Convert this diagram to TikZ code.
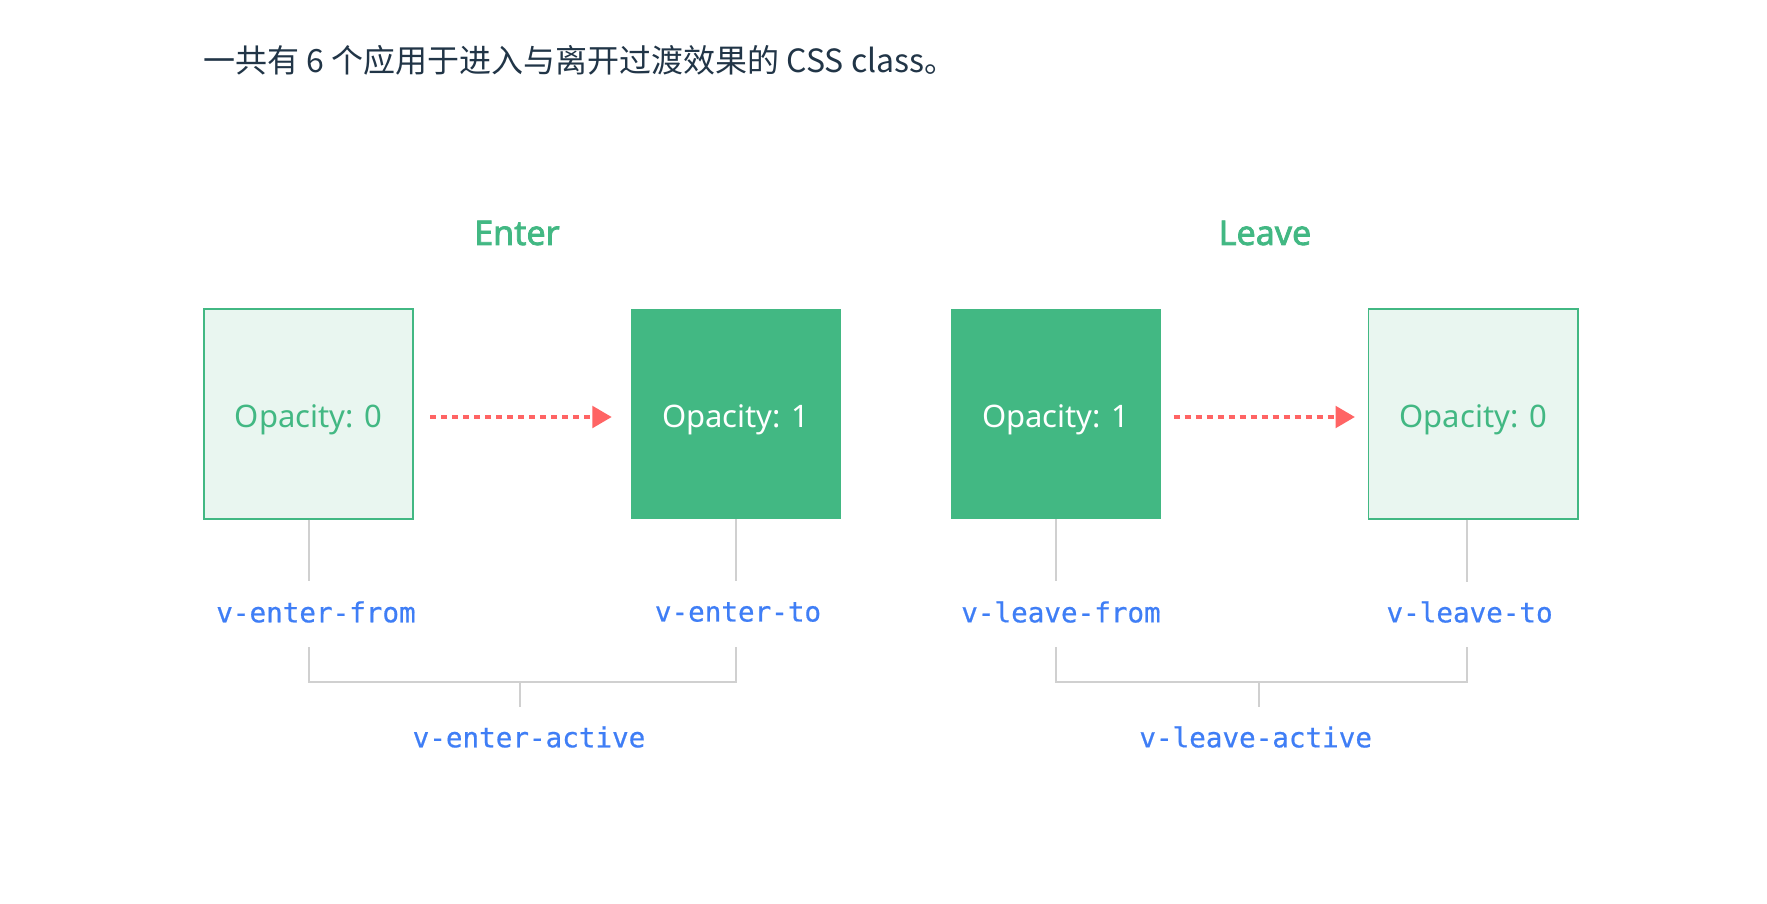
\documentclass[tikz,border=0pt]{standalone}
\usepackage{fontspec}
\setmainfont{Noto Sans}
\newfontfamily\cjk{Noto Sans CJK SC}
\newfontfamily\headf{Noto Sans}[FakeBold=2.2]
\newfontfamily\monof{DejaVu Sans Mono}[FakeBold=0.6]
\usetikzlibrary{arrows.meta}
\definecolor{vgreen}{HTML}{42B883}
\definecolor{vlight}{HTML}{E9F6F0}
\definecolor{vred}{HTML}{FF6464}
\definecolor{vblue}{HTML}{3F7EF6}
\definecolor{vgray}{HTML}{D0D0D0}
\definecolor{vtext}{HTML}{213547}
\begin{document}
\begin{tikzpicture}[x=0.5pt,y=-0.5pt,
  boxbase/.style={minimum width=104.8pt, minimum height=104.8pt, inner sep=0pt, text height=13.8pt, text depth=0pt, font=\fontsize{15.5}{18}\selectfont},
  lightbox/.style={boxbase, draw=vgreen, fill=vlight, line width=0.9pt, text=vgreen},
  fullbox/.style={boxbase, fill=vgreen, text=white},
  heading/.style={text=vgreen, font=\headf\fontsize{17}{20}\selectfont},
  flow/.style={vred, line width=1.8pt, dash pattern=on 3pt off 2.5pt, -{Triangle[length=9.7pt,width=10.8pt]}},
  cls/.style={text=vblue, font=\monof\fontsize{13.8}{16}\selectfont},
  guide/.style={vgray, line width=1pt}
]
\fill[white] (0,0) rectangle (1767,904);
\useasboundingbox (0,0) rectangle (1767,904);

\node[anchor=base west, text=vtext, font=\cjk\fontsize{16}{19}\selectfont, inner sep=0pt] (title) at (203,73) {一共有 6 个应用于进入与离开过渡效果的 CSS class。};

\node[heading] (enter) at (517,233) {Enter};
\node[heading] (leave) at (1265,233) {Leave};

\node[lightbox] (b1) at (308.5,414) {Opacity: 0};
\node[fullbox]  (b2) at (735.9,414) {Opacity: 1};
\node[fullbox]  (b3) at (1055.9,414) {Opacity: 1};
\node[lightbox] (b4) at (1473.2,414) {Opacity: 0};

\draw[flow, shorten <=8pt, shorten >=9.5pt] ([yshift=-1.5pt]b1.east) -- ([yshift=-1.5pt]b2.west);
\draw[flow, shorten <=6.2pt, shorten >=6.3pt] ([yshift=-1.5pt]b3.east) -- ([yshift=-1.5pt]b4.west);

\node[cls] (l1) at (316,612) {v-enter-from};
\node[cls] (l2) at (738,612) {v-enter-to};
\node[cls] (l3) at (1061,612) {v-leave-from};
\node[cls] (l4) at (1469.6,612) {v-leave-to};
\node[cls] (la) at (529,737) {v-enter-active};
\node[cls] (lb) at (1255.7,737) {v-leave-active};

\coordinate (e1) at (308.5,581);
\coordinate (e2) at (735.9,581);
\coordinate (e3) at (1055.9,581);
\coordinate (e4) at (1467.3,582);
\draw[guide] (b1.south) -- (e1);
\draw[guide] (b2.south) -- (e2);
\draw[guide] (b3.south) -- (e3);
\draw[guide] (b4.south -| e4) -- (e4);

\coordinate (s1) at (308.7,647);
\coordinate (s2) at (735.9,647);
\coordinate (m1) at (520,681.7);
\coordinate (t1) at (520,706.7);
\draw[guide] (s1) |- (m1) -| (s2);
\draw[guide] (m1) -- (t1);

\coordinate (s3) at (1056,647);
\coordinate (s4) at (1467.3,647);
\coordinate (m2) at (1259,681.7);
\coordinate (t2) at (1259,706.7);
\draw[guide] (s3) |- (m2) -| (s4);
\draw[guide] (m2) -- (t2);
\end{tikzpicture}
\end{document}
